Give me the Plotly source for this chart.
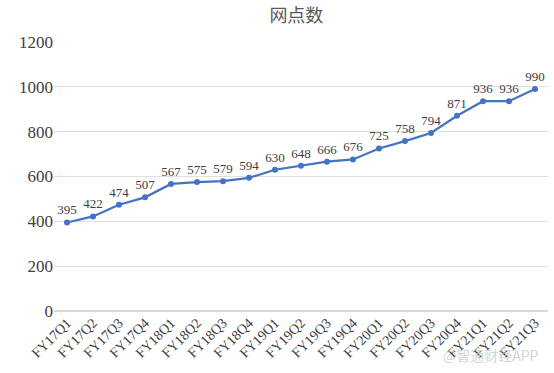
import plotly.graph_objects as go

categories = ["FY17Q1","FY17Q2","FY17Q3","FY17Q4","FY18Q1","FY18Q2","FY18Q3","FY18Q4",
              "FY19Q1","FY19Q2","FY19Q3","FY19Q4","FY20Q1","FY20Q2","FY20Q3","FY20Q4",
              "FY21Q1","FY21Q2","FY21Q3"]
values = [395, 422, 474, 507, 567, 575, 579, 594, 630, 648, 666, 676, 725, 758, 794, 871, 936, 936, 990]
y_ticks = [0, 200, 400, 600, 800, 1000, 1200]

serif = "'Liberation Serif', 'Times New Roman', 'DejaVu Serif', serif"

fig = go.Figure()
fig.add_trace(go.Scatter(
    x=categories, y=values, mode="lines+markers+text",
    line=dict(color="#4472C4", width=2.2),
    marker=dict(color="#4472C4", size=6),
    text=[str(v) for v in values], textposition="top center",
    textfont=dict(family=serif, size=13, color="#404040"),
    cliponaxis=False,
))

fig.update_layout(
    width=554, height=373,
    margin=dict(l=54, r=6, t=42, b=62),
    paper_bgcolor="white", plot_bgcolor="white",
    showlegend=False,
    title=dict(text="网点数", x=0.535, xanchor="center", y=0.958, yanchor="middle",
               font=dict(family="Noto Sans CJK SC", size=18, color="#595959")),
    xaxis=dict(type="category", tickangle=-45, showgrid=False, showline=False,
               ticks="", tickfont=dict(family=serif, size=14, color="#404040"),
               range=[-0.5, len(categories) - 0.5]),
    yaxis=dict(range=[0, 1200], tickvals=y_ticks, showgrid=True, gridcolor="#E0E0E0",
               gridwidth=1, zeroline=True, zerolinecolor="#D9D9D9", showline=False,
               ticks="", tickfont=dict(family=serif, size=17, color="#404040")),
)

fig.add_annotation(text="@智通财经APP", xref="paper", yref="paper", x=0.985, y=-0.165,
                   xanchor="right", yanchor="middle", showarrow=False,
                   font=dict(family="Noto Sans CJK SC", size=14, color="rgba(200,200,200,0.8)"))

fig.write_html("out.html")
